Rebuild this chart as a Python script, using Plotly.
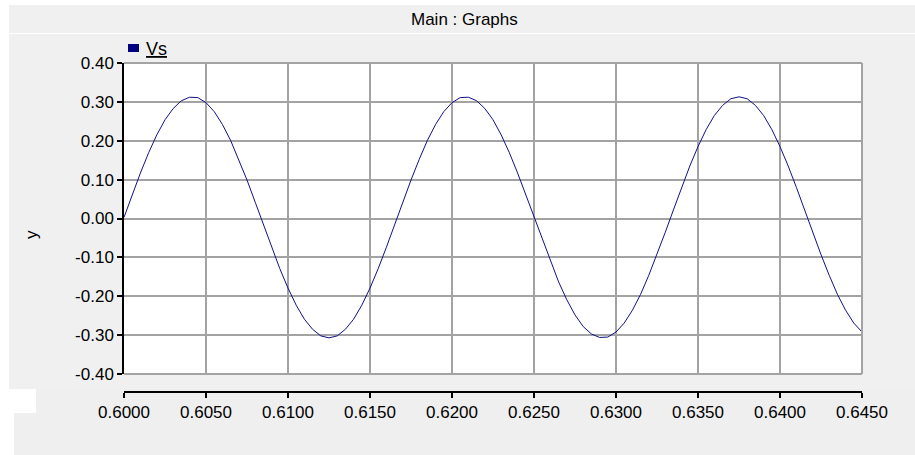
import plotly.graph_objects as go

# ---- data ----
vs_values = [
    0.003, 0.061, 0.117, 0.169, 0.215, 0.254, 0.283, 0.303, 0.312, 0.311,
    0.298, 0.275, 0.242, 0.201, 0.152, 0.099, 0.042, -0.016, -0.074, -0.129,
    -0.179, -0.223, -0.259, -0.285, -0.302, -0.307, -0.302, -0.285, -0.259, -0.223,
    -0.179, -0.129, -0.074, -0.016, 0.042, 0.099, 0.152, 0.201, 0.242, 0.275,
    0.298, 0.311, 0.312, 0.303, 0.283, 0.254, 0.215, 0.169, 0.117, 0.061,
    0.003, -0.055, -0.111, -0.163, -0.209, -0.248, -0.278, -0.297, -0.306, -0.305,
    -0.292, -0.269, -0.236, -0.195, -0.146, -0.093, -0.036, 0.022, 0.080, 0.135,
    0.185, 0.229, 0.265, 0.291, 0.308, 0.313, 0.308, 0.291, 0.265, 0.229,
    0.185, 0.135, 0.080, 0.022, -0.036, -0.093, -0.146, -0.195, -0.236, -0.269,
    -0.292,
]
time_start = 0.6000
time_step = 0.0005
time_s = [round(time_start + time_step * i, 4) for i in range(len(vs_values))]

x_tick_values = [0.600, 0.605, 0.610, 0.615, 0.620, 0.625, 0.630, 0.635, 0.640, 0.645]
x_tick_labels = ["0.6000", "0.6050", "0.6100", "0.6150", "0.6200",
                 "0.6250", "0.6300", "0.6350", "0.6400", "0.6450"]
y_tick_values = [-0.4, -0.3, -0.2, -0.1, 0.0, 0.1, 0.2, 0.3, 0.4]
y_tick_labels = ["-0.40", "-0.30", "-0.20", "-0.10", "0.00",
                 "0.10", "0.20", "0.30", "0.40"]

series_name = "Vs"
title_text = "Main : Graphs"
y_label = "y"

# ---- layout geometry (pixels) ----
WIDTH, HEIGHT = 915, 455
L, R, T, B = 124, 862, 63, 392      # paper area (x axis line at B)
PLOT_BOTTOM = 374                    # bottom of the plotting box
PW, PH = R - L, B - T

def px(x):
    return (x - L) / PW

def py(y):
    return (B - y) / PH

FONT = "Liberation Sans, Arial, sans-serif"
GRID = "#a3a3a3"
PANEL = "#f0f0f0"
LINE_COLOR = "#10108a"
FS = 17

fig = go.Figure()
fig.add_trace(go.Scatter(
    x=time_s, y=vs_values, mode="lines", name=series_name,
    line=dict(color=LINE_COLOR, width=1), showlegend=False,
))

shapes = []
def rect(x0, y0, x1, y1, fill, layer="below"):
    shapes.append(dict(type="rect", xref="paper", yref="paper",
                       x0=px(x0), x1=px(x1), y0=py(y1), y1=py(y0),
                       fillcolor=fill, line=dict(width=0), layer=layer))

# grey panels
rect(9, 5, WIDTH + 2, 33, PANEL)
rect(9, 34, WIDTH + 2, 389, PANEL)
rect(36, 389, WIDTH + 2, 413, "#efefef")
rect(14, 413, WIDTH + 2, HEIGHT + 2, "#efefef")
# white plotting box
rect(L, T, R, PLOT_BOTTOM, "white")
# legend square
rect(128, 44, 139, 52, "#000080", layer="above")

def hline(x0, x1, y, color, w):
    shapes.append(dict(type="line", xref="paper", yref="paper",
                       x0=px(x0), x1=px(x1), y0=py(y), y1=py(y),
                       line=dict(color=color, width=w), layer="above"))

def vline(x, y0, y1, color, w):
    shapes.append(dict(type="line", xref="paper", yref="paper",
                       x0=px(x), x1=px(x), y0=py(y0), y1=py(y1),
                       line=dict(color=color, width=w), layer="above"))

hline(L, R, T, GRID, 2)
hline(L, R, PLOT_BOTTOM, GRID, 2)
vline(R, T, PLOT_BOTTOM, GRID, 2)

annotations = [
    dict(text=title_text, x=px(464), y=py(20), xref="paper", yref="paper",
         showarrow=False, xanchor="center", yanchor="middle",
         font=dict(family=FONT, size=FS, color="black")),
    dict(text="<u>" + series_name + "</u>", x=px(144), y=py(49), xref="paper", yref="paper",
         showarrow=False, xanchor="left", yanchor="middle",
         font=dict(family=FONT, size=18, color="black")),
    dict(text=y_label, x=px(31), y=py(235), xref="paper", yref="paper",
         showarrow=False, xanchor="center", yanchor="middle", textangle=-90,
         font=dict(family=FONT, size=FS, color="black")),
]

fig.update_layout(
    width=WIDTH, height=HEIGHT,
    margin=dict(l=L, r=WIDTH - R, t=T, b=HEIGHT - B, pad=0),
    paper_bgcolor="white", plot_bgcolor="white",
    font=dict(family=FONT, size=FS, color="black"),
    shapes=shapes, annotations=annotations,
    xaxis=dict(
        range=[0.6, 0.645], anchor="free", position=0,
        tickvals=x_tick_values, ticktext=x_tick_labels,
        showgrid=True, gridcolor=GRID, gridwidth=2, zeroline=False,
        showline=True, linecolor="black", linewidth=1.5,
        ticks="outside", ticklen=5, tickcolor="black", tickwidth=1.5,
        tickfont=dict(family=FONT, size=FS, color="black"),
    ),
    yaxis=dict(
        range=[-0.4, 0.4], domain=[py(PLOT_BOTTOM), 1],
        tickvals=y_tick_values, ticktext=y_tick_labels,
        showgrid=True, gridcolor=GRID, gridwidth=2, zeroline=False,
        showline=True, linecolor="black", linewidth=1.5,
        ticks="outside", ticklen=5, tickcolor="black", tickwidth=1.5,
        tickfont=dict(family=FONT, size=FS, color="black"),
    ),
)

fig.write_html(
    "out.html",
    config={"displayModeBar": False},
    post_script="document.body.style.margin='0';document.body.style.overflow='hidden';",
)
